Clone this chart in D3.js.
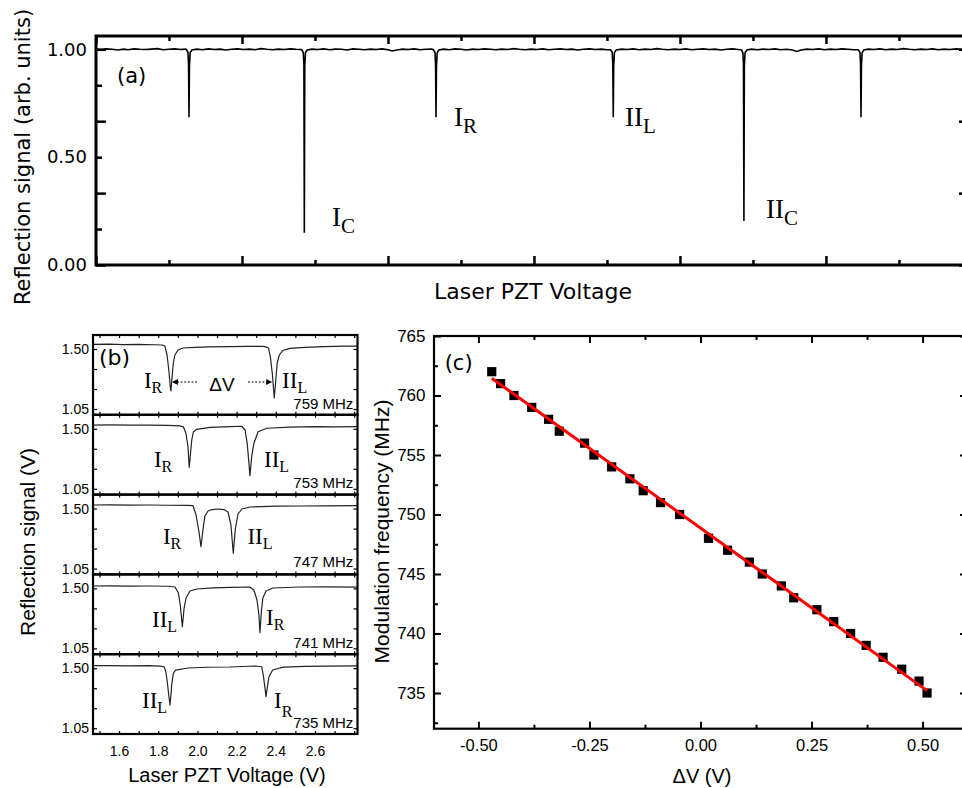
<!DOCTYPE html>
<html><head><meta charset="utf-8">
<script src="https://cdn.jsdelivr.net/npm/d3@7/dist/d3.min.js"></script>
<style>html,body{margin:0;padding:0;background:#fff;} svg{display:block;}</style>
</head><body>
<svg id="chart" width="962" height="788"></svg>
<script>
// ================= DATA =================
// Panel (a): reflection scan, x in major-tick units, y in arb. units
const scanA = [
 [0.00,1.001],[0.04,0.999],[0.07,1.002],[0.11,1.000],[0.15,0.997],[0.19,1.001],[0.22,0.998],[0.26,1.002],[0.30,1.000],[0.34,0.999],
 [0.38,1.001],[0.42,1.003],[0.46,0.998],[0.50,1.000],[0.54,1.002],[0.58,0.999],[0.61,1.001],[0.619,0.999],[0.630,0.985],[0.634,0.93],
 [0.637,0.685],[0.640,0.92],[0.645,0.985],[0.657,0.997],[0.69,1.001],[0.73,0.998],[0.77,1.002],[0.81,0.999],[0.85,1.001],[0.89,0.997],
 [0.93,1.000],[0.97,1.002],[1.01,0.999],[1.05,1.001],[1.09,0.998],[1.13,1.003],[1.17,1.000],[1.21,0.998],[1.25,1.001],[1.29,0.999],
 [1.33,1.002],[1.37,1.000],[1.40,0.999],[1.409,0.998],[1.420,0.985],[1.424,0.93],[1.427,0.150],[1.430,0.92],[1.435,0.985],[1.447,0.997],
 [1.48,1.001],[1.52,0.999],[1.56,1.002],[1.60,0.998],[1.64,1.001],[1.68,1.000],[1.72,0.997],[1.76,1.002],[1.80,1.000],[1.84,0.998],
 [1.88,1.001],[1.92,0.999],[1.96,1.002],[2.00,0.998],[2.03,0.992],[2.06,0.997],[2.10,1.001],[2.14,0.999],[2.18,1.002],[2.22,0.998],
 [2.26,1.000],[2.30,1.001],[2.311,0.998],[2.322,0.985],[2.326,0.93],[2.329,0.685],[2.332,0.92],[2.337,0.985],[2.349,0.997],[2.38,1.001],
 [2.42,0.998],[2.46,1.002],[2.50,1.000],[2.54,0.997],[2.58,1.001],[2.62,0.999],[2.66,1.002],[2.70,1.000],[2.74,0.998],[2.78,1.001],
 [2.82,0.999],[2.86,1.003],[2.90,1.000],[2.94,0.998],[2.98,1.001],[3.02,0.999],[3.06,1.002],[3.10,0.998],[3.14,1.000],[3.18,1.002],
 [3.22,0.999],[3.26,1.001],[3.30,0.997],[3.34,1.000],[3.38,1.002],[3.42,0.999],[3.46,1.001],[3.50,0.998],[3.525,0.998],[3.536,0.985],
 [3.540,0.93],[3.543,0.685],[3.546,0.92],[3.551,0.985],[3.563,0.997],[3.60,1.001],[3.64,0.999],[3.68,1.002],[3.72,0.998],[3.76,1.001],
 [3.80,0.999],[3.84,1.003],[3.88,1.000],[3.92,0.998],[3.96,1.001],[4.00,0.999],[4.04,1.002],[4.08,0.998],[4.12,1.000],[4.16,1.002],
 [4.20,0.999],[4.24,1.001],[4.28,0.997],[4.32,1.000],[4.36,1.002],[4.40,0.999],[4.420,0.998],[4.431,0.985],[4.435,0.93],[4.438,0.204],
 [4.441,0.92],[4.446,0.985],[4.458,0.997],[4.49,1.001],[4.53,0.998],[4.57,1.001],[4.61,0.999],[4.65,1.002],[4.69,0.998],[4.73,1.000],
 [4.77,0.997],[4.80,0.990],[4.83,0.997],[4.87,1.001],[4.91,0.999],[4.95,1.002],[4.99,0.998],[5.03,1.001],[5.07,0.999],[5.11,1.002],
 [5.15,1.000],[5.19,0.998],[5.222,0.998],[5.233,0.985],[5.237,0.93],[5.240,0.685],[5.243,0.92],[5.248,0.985],[5.260,0.997],[5.29,1.001],
 [5.33,0.999],[5.37,1.002],[5.41,0.998],[5.45,1.001],[5.49,0.999],[5.53,1.003],[5.57,1.000],[5.61,0.998],[5.65,1.001],[5.69,0.999],
 [5.73,1.002],[5.77,0.998],[5.81,1.001],[5.85,0.999],[5.89,1.002],[5.93,1.000],[5.973,0.999]
];
const aYTicksLong = [0, 0.3333, 0.6667, 1.0];
const aYTicksShort = [0.1667, 0.5, 0.8333];
const aYLabels = [0.0, 0.5, 1.0];
const aXTicksMajor = [0, 1, 2, 3, 4, 5];
const aXTicksMinor = [0.5, 1.5, 2.5, 3.5, 4.5, 5.5];
const aPeakNames = [["I","C"],["I","R"],["II","L"],["II","C"]];

// Panel (b): five scans, x = laser PZT voltage (V), y = reflection signal (V)
const bFreqLabels = ["759 MHz","753 MHz","747 MHz","741 MHz","735 MHz"];
const bScan759 = [[1.467,1.535],[1.55,1.536],[1.62,1.533],[1.70,1.535],[1.78,1.532],[1.82,1.530],[1.834,1.5225],[1.845,1.455],[1.855,1.3275],[1.862,1.2075],[1.865,1.185],[1.870,1.2825],[1.877,1.395],[1.885,1.455],[1.901,1.4925],[1.926,1.5075],[1.987,1.512],[2.06,1.516],[2.166,1.518],[2.25,1.519],[2.33,1.519],[2.345,1.518],[2.363,1.5075],[2.373,1.4325],[2.383,1.305],[2.392,1.1325],[2.398,1.23],[2.407,1.395],[2.418,1.455],[2.436,1.489],[2.472,1.505],[2.549,1.512],[2.65,1.518],[2.75,1.521],[2.817,1.522]];
const bScan753 = [[1.467,1.528],[1.55,1.529],[1.65,1.527],[1.75,1.528],[1.85,1.525],[1.91,1.522],[1.928,1.515],[1.941,1.4685],[1.952,1.3635],[1.958,1.211],[1.964,1.3035],[1.971,1.416],[1.979,1.476],[1.996,1.496],[2.064,1.511],[2.166,1.517],[2.226,1.519],[2.243,1.491],[2.254,1.391],[2.263,1.241],[2.268,1.148],[2.277,1.291],[2.288,1.391],[2.310,1.478],[2.353,1.504],[2.472,1.513],[2.60,1.516],[2.70,1.515],[2.817,1.516]];
const bScan747 = [[1.467,1.527],[1.55,1.528],[1.65,1.526],[1.75,1.527],[1.85,1.525],[1.95,1.524],[1.977,1.523],[1.993,1.452],[2.008,1.3245],[2.018,1.2143],[2.028,1.3395],[2.038,1.4445],[2.054,1.482],[2.074,1.493],[2.105,1.497],[2.135,1.493],[2.156,1.4745],[2.171,1.377],[2.183,1.1648],[2.194,1.3545],[2.207,1.4595],[2.227,1.497],[2.268,1.512],[2.40,1.519],[2.523,1.5195],[2.65,1.521],[2.817,1.522]];
const bScan741 = [[1.467,1.518],[1.55,1.519],[1.65,1.517],[1.75,1.518],[1.85,1.516],[1.885,1.5105],[1.903,1.4655],[1.913,1.368],[1.923,1.2128],[1.932,1.353],[1.942,1.428],[1.962,1.4805],[1.998,1.4955],[2.08,1.504],[2.166,1.507],[2.268,1.5105],[2.288,1.488],[2.304,1.413],[2.314,1.3005],[2.319,1.168],[2.327,1.338],[2.334,1.428],[2.350,1.4805],[2.385,1.503],[2.523,1.5105],[2.65,1.511],[2.817,1.510]];
const bScan735 = [[1.467,1.519],[1.55,1.520],[1.65,1.518],[1.75,1.519],[1.81,1.516],[1.830,1.511],[1.839,1.4715],[1.846,1.40],[1.852,1.32],[1.860,1.224],[1.866,1.32],[1.869,1.38],[1.877,1.46],[1.888,1.485],[1.952,1.5015],[2.05,1.507],[2.166,1.509],[2.294,1.5165],[2.328,1.511],[2.336,1.449],[2.345,1.349],[2.350,1.286],[2.356,1.349],[2.365,1.436],[2.384,1.4865],[2.438,1.508],[2.55,1.514],[2.65,1.516],[2.817,1.517]];
const bPeakNames = [
  [["I","R"],["II","L"]],
  [["I","R"],["II","L"]],
  [["I","R"],["II","L"]],
  [["II","L"],["I","R"]],
  [["II","L"],["I","R"]]
];
const bYTicks = [1.05, 1.20, 1.35, 1.50];
const bYLabels = [1.05, 1.50];
const bXTicks = [1.5,1.6,1.7,1.8,1.9,2.0,2.1,2.2,2.3,2.4,2.5,2.6,2.7,2.8];
const bXLabels = [1.6, 1.8, 2.0, 2.2, 2.4, 2.6];

// Panel (c): modulation frequency vs delta V
const cDeltaV = [-0.470,-0.450,-0.420,-0.380,-0.342,-0.318,-0.261,-0.240,-0.200,-0.159,-0.129,-0.090,-0.047,0.018,0.061,0.110,0.139,0.182,0.210,0.262,0.300,0.338,0.373,0.411,0.453,0.492,0.510];
const cFreq   = [762,761,760,759,758,757,756,755,754,753,752,751,750,748,747,746,745,744,743,742,741,740,739,738,737,736,735];
const cFit = [[-0.470, 761.45], [0.510, 735.2]];
const cXMajor = [-0.50, -0.25, 0.00, 0.25, 0.50];
const cXMinor = [-0.375, -0.125, 0.125, 0.375];
const cYMajor = [735, 740, 745, 750, 755, 760, 765];
const cYMinor = [732.5, 737.5, 742.5, 747.5, 752.5, 757.5, 762.5];

// ================= DRAWING =================
const svg = d3.select("#chart");
const DEJAVU = "'DejaVu Sans', Verdana, sans-serif";
const ARIAL = "'Liberation Sans', Arial, Helvetica, sans-serif";
const SERIF = "'Liberation Serif', 'Times New Roman', serif";
const hyphenFmt = spec => { const f = d3.format(spec); return d => f(d).replace("\u2212", "-"); };

function tickAxis(parent, axisGen, scale, values, len, transform, width) {
  const g = parent.append("g").attr("transform", transform)
    .call(axisGen(scale).tickValues(values).tickSize(-len).tickFormat(""));
  g.select(".domain").remove();
  g.selectAll(".tick text").remove();
  g.selectAll(".tick line").attr("stroke", "#000").attr("stroke-width", width);
  return g;
}
function labelAxis(parent, axisGen, scale, values, fmt, pad, transform, font, size) {
  const g = parent.append("g").attr("transform", transform)
    .call(axisGen(scale).tickValues(values).tickSize(0).tickPadding(pad).tickFormat(fmt));
  g.select(".domain").remove();
  g.selectAll(".tick line").remove();
  g.attr("font-family", font).attr("font-size", size);
  g.selectAll(".tick text").attr("fill", "#000");
  return g;
}
function subLabel(parent, x, y, main, sub, mainSize, subSize, dy) {
  const t = parent.append("text").attr("x", x).attr("y", y)
    .attr("font-family", SERIF).attr("font-size", mainSize).attr("fill", "#000").text(main);
  t.append("tspan").attr("dy", dy).attr("font-size", subSize).text(sub);
  return t;
}

// ---------- Panel (a) ----------
const aL = 96, aR = 968, aT = 36, aB = 265;
const ax = d3.scaleLinear().domain([0, 5.973]).range([aL, aR]);
const ay = d3.scaleLinear().domain([0, 1.0617]).range([aB, aT]);
const gA = svg.append("g");
gA.append("path").datum(scanA)
  .attr("fill", "none").attr("stroke", "#000").attr("stroke-width", 1.6).attr("stroke-linejoin", "miter")
  .attr("d", d3.line().x(d => ax(d[0])).y(d => ay(d[1])));
tickAxis(gA, d3.axisBottom, ax, aXTicksMajor, 9, `translate(0,${aB})`, 2.5);
tickAxis(gA, d3.axisBottom, ax, aXTicksMinor, 5, `translate(0,${aB})`, 2.5);
tickAxis(gA, d3.axisTop, ax, aXTicksMajor, 8, `translate(0,${aT})`, 2.5);
tickAxis(gA, d3.axisTop, ax, aXTicksMinor, 5, `translate(0,${aT})`, 2.5);
tickAxis(gA, d3.axisLeft, ay, aYTicksLong, 10, `translate(${aL},0)`, 2.5);
tickAxis(gA, d3.axisLeft, ay, aYTicksShort, 6, `translate(${aL},0)`, 2.5);
tickAxis(gA, d3.axisRight, ay, aYTicksLong, 9, `translate(${aR},0)`, 2.5);
tickAxis(gA, d3.axisRight, ay, aYTicksShort, 6, `translate(${aR},0)`, 2.5);
labelAxis(gA, d3.axisLeft, ay, aYLabels, d3.format(".2f"), 9, `translate(${aL},0)`, DEJAVU, 18);
gA.append("rect").attr("x", aL).attr("y", aT).attr("width", aR - aL).attr("height", aB - aT)
  .attr("fill", "none").attr("stroke", "#000").attr("stroke-width", 3);
gA.append("text").attr("transform", `translate(30,157) rotate(-90)`).attr("text-anchor", "middle")
  .attr("font-family", DEJAVU).attr("font-size", 21).text("Reflection signal (arb. units)");
gA.append("text").attr("x", 533).attr("y", 299).attr("text-anchor", "middle")
  .attr("font-family", DEJAVU).attr("font-size", 22).text("Laser PZT Voltage");
gA.append("text").attr("x", ax(0.144)).attr("y", ay(0.844))
  .attr("font-family", DEJAVU).attr("font-size", 21).text("(a)");
const aPeakPos = [[1.616, 0.181], [2.452, 0.644], [3.623, 0.644], [4.589, 0.218]];
aPeakNames.forEach((n, i) => subLabel(gA, ax(aPeakPos[i][0]), ay(aPeakPos[i][1]), n[0], n[1], 27, 21, 7));

// ---------- Panel (b) ----------
const bL = 93, bR = 357.5, bTop = 335, bH = 79.8;
const bx = d3.scaleLinear().domain([1.467, 2.817]).range([bL, bR]);
const bScans = [bScan759, bScan753, bScan747, bScan741, bScan735];
const bLabelPos = [
  [[1.727, 1.2053], [2.432, 1.2053]],
  [[1.778, 1.2113], [2.340, 1.2113]],
  [[1.824, 1.2323], [2.255, 1.2323]],
  [[1.768, 1.2128], [2.350, 1.2255]],
  [[1.717, 1.1993], [2.391, 1.2015]]
];
const bFreqY = [1.05, 1.0538, 1.0598, 1.0508, 1.0538];
const gB = svg.append("g");
bScans.forEach((scan, i) => {
  const top = bTop + i * bH;
  const by = d3.scaleLinear().domain([1.0065, 1.605]).range([top + bH, top]);
  const g = gB.append("g");
  g.append("path").datum(scan)
    .attr("fill", "none").attr("stroke", "#222").attr("stroke-width", 1.2).attr("stroke-linejoin", "round")
    .attr("d", d3.line().x(d => bx(d[0])).y(d => by(d[1])));
  tickAxis(g, d3.axisLeft, by, bYTicks, 4, `translate(${bL},0)`, 1.2);
  tickAxis(g, d3.axisRight, by, bYTicks, 4, `translate(${bR},0)`, 1.2);
  tickAxis(g, d3.axisTop, bx, bXTicks, 3, `translate(0,${top})`, 1.2);
  tickAxis(g, d3.axisBottom, bx, bXTicks, 3, `translate(0,${top + bH})`, 1.2);
  labelAxis(g, d3.axisLeft, by, bYLabels, d3.format(".2f"), 4, `translate(${bL},0)`, ARIAL, 14);
  g.append("rect").attr("x", bL).attr("y", top).attr("width", bR - bL).attr("height", bH)
    .attr("fill", "none").attr("stroke", "#000").attr("stroke-width", 2.2);
  bPeakNames[i].forEach((n, j) => {
    const p = bLabelPos[i][j];
    subLabel(g, bx(p[0]), by(p[1]), n[0], n[1], 23, 16, (i === 4 && j === 1) ? 9 : 5);
  });
  g.append("text").attr("x", bx(2.796)).attr("y", by(bFreqY[i])).attr("text-anchor", "end")
    .attr("font-family", ARIAL).attr("font-size", 15).text(bFreqLabels[i]);
  if (i === 0) {
    g.append("text").attr("x", bx(1.4976)).attr("y", by(1.38))
      .attr("font-family", DEJAVU).attr("font-size", 22).text("(b)");
    g.append("text").attr("x", bx(2.1255)).attr("y", by(1.1813)).attr("text-anchor", "middle")
      .attr("font-family", ARIAL).attr("font-size", 19).text("\u0394V");
    const ya = by(1.2525);
    g.append("line").attr("x1", bx(1.998)).attr("x2", bx(1.870) + 5).attr("y1", ya).attr("y2", ya)
      .attr("stroke", "#000").attr("stroke-width", 1.1).attr("stroke-dasharray", "2,1.6");
    g.append("path").attr("d", `M${bx(1.870)},${ya}L${bx(1.870) + 6},${ya - 3}L${bx(1.870) + 6},${ya + 3}Z`).attr("fill", "#000");
    g.append("line").attr("x1", bx(2.258)).attr("x2", bx(2.3815) - 5).attr("y1", ya).attr("y2", ya)
      .attr("stroke", "#000").attr("stroke-width", 1.1).attr("stroke-dasharray", "2,1.6");
    g.append("path").attr("d", `M${bx(2.3815)},${ya}L${bx(2.3815) - 6},${ya - 3}L${bx(2.3815) - 6},${ya + 3}Z`).attr("fill", "#000");
  }
});
labelAxis(gB, d3.axisBottom, bx, bXLabels, d3.format(".1f"), 12.5, `translate(0,${bTop + 5 * bH})`, ARIAL, 14);
gB.append("text").attr("x", 227).attr("y", 782).attr("text-anchor", "middle")
  .attr("font-family", ARIAL).attr("font-size", 20).text("Laser PZT Voltage (V)");
gB.append("text").attr("transform", `translate(35,542) rotate(-90)`).attr("text-anchor", "middle")
  .attr("font-family", ARIAL).attr("font-size", 21).text("Reflection signal (V)");

// ---------- Panel (c) ----------
const cL = 434, cR = 967, cT = 336, cB = 728.7;
const cx = d3.scaleLinear().domain([-0.6, 0.6]).range([cL, cR]);
const cy = d3.scaleLinear().domain([732, 765]).range([cB, cT]);
const gC = svg.append("g");
tickAxis(gC, d3.axisBottom, cx, cXMajor, 7, `translate(0,${cB})`, 2);
tickAxis(gC, d3.axisBottom, cx, cXMinor, 4, `translate(0,${cB})`, 2);
tickAxis(gC, d3.axisTop, cx, cXMajor, 7, `translate(0,${cT})`, 2);
tickAxis(gC, d3.axisTop, cx, cXMinor, 4, `translate(0,${cT})`, 2);
tickAxis(gC, d3.axisLeft, cy, cYMajor, 7, `translate(${cL},0)`, 2);
tickAxis(gC, d3.axisLeft, cy, cYMinor, 4, `translate(${cL},0)`, 2);
tickAxis(gC, d3.axisRight, cy, cYMajor, 7, `translate(${cR},0)`, 2);
tickAxis(gC, d3.axisRight, cy, cYMinor, 4, `translate(${cR},0)`, 2);
labelAxis(gC, d3.axisLeft, cy, cYMajor, d3.format("d"), 8.5, `translate(${cL},0)`, ARIAL, 17);
labelAxis(gC, d3.axisBottom, cx, cXMajor, hyphenFmt(".2f"), 10.5, `translate(0,${cB})`, ARIAL, 16.5);
gC.selectAll("rect.pt").data(cDeltaV).enter().append("rect").attr("class", "pt")
  .attr("x", d => cx(d) - 4.6).attr("y", (d, i) => cy(cFreq[i]) - 4.6)
  .attr("width", 9.2).attr("height", 9.2).attr("fill", "#000");
gC.append("path").datum(cFit).attr("fill", "none").attr("stroke", "#ff0000").attr("stroke-width", 3)
  .attr("d", d3.line().x(d => cx(d[0])).y(d => cy(d[1])));
gC.append("rect").attr("x", cL).attr("y", cT).attr("width", cR - cL).attr("height", cB - cT)
  .attr("fill", "none").attr("stroke", "#000").attr("stroke-width", 2.2);
gC.append("text").attr("x", cx(-0.576)).attr("y", cy(762.14))
  .attr("font-family", DEJAVU).attr("font-size", 21).text("(c)");
gC.append("text").attr("x", 702).attr("y", 783).attr("text-anchor", "middle")
  .attr("font-family", ARIAL).attr("font-size", 20).text("\u0394V (V)");
gC.append("text").attr("transform", `translate(389,531.5) rotate(-90)`).attr("text-anchor", "middle")
  .attr("font-family", ARIAL).attr("font-size", 21).text("Modulation frequency (MHz)");
</script>
</body></html>
